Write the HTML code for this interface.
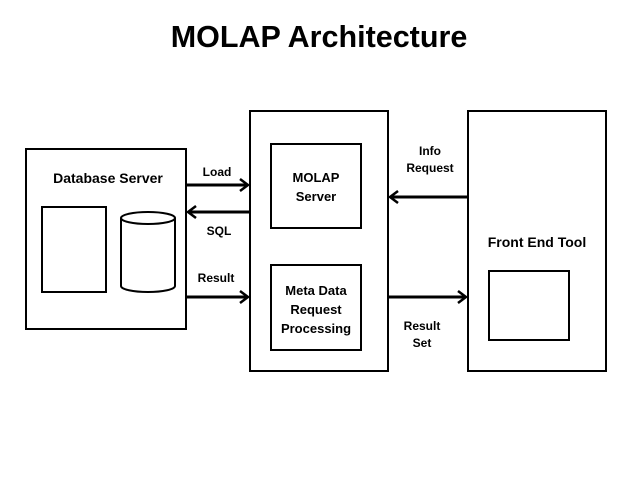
<!DOCTYPE html>
<html><head><meta charset="utf-8"><style>
html,body{margin:0;padding:0;background:#fff;}
</style></head><body>
<svg width="638" height="479" viewBox="0 0 638 479" xmlns="http://www.w3.org/2000/svg" font-family="'Liberation Sans',sans-serif">
<text x="319" y="47" text-anchor="middle" font-size="30.5" font-weight="bold" fill="#000">MOLAP Architecture</text>
<g fill="none" stroke="#000" stroke-width="2">
<rect x="26" y="149" width="160" height="180"/>
<rect x="42" y="207" width="64" height="85"/>
<path d="M121 218 V286 A27 6 0 0 0 175 286 V218"/>
<ellipse cx="148" cy="218" rx="27" ry="6"/>
<rect x="250" y="111" width="138" height="260"/>
<rect x="271" y="144" width="90" height="84"/>
<rect x="271" y="265" width="90" height="85"/>
<rect x="468" y="111" width="138" height="260"/>
<rect x="489" y="271" width="80" height="69"/>
</g>
<g fill="none" stroke="#000" stroke-width="3">
<line x1="186" y1="185" x2="248" y2="185"/><polyline points="240,179 248,185 240,191" stroke-width="2.5"/>
<line x1="250" y1="212" x2="188" y2="212"/><polyline points="196,206 188,212 196,218" stroke-width="2.5"/>
<line x1="186" y1="297" x2="248" y2="297"/><polyline points="240,291 248,297 240,303" stroke-width="2.5"/>
<line x1="468" y1="197" x2="390" y2="197"/><polyline points="398,191 390,197 398,203" stroke-width="2.5"/>
<line x1="388" y1="297" x2="466" y2="297"/><polyline points="458,291 466,297 458,303" stroke-width="2.5"/>
</g>
<g font-size="13" font-weight="bold" fill="#000" text-anchor="middle">
<text x="108" y="183" font-size="14">Database Server</text>
<text x="217" y="176" font-size="12">Load</text>
<text x="219" y="235" font-size="12">SQL</text>
<text x="216" y="282" font-size="12">Result</text>
<text x="316" y="182">MOLAP</text>
<text x="316" y="201">Server</text>
<text x="316" y="295">Meta Data</text>
<text x="316" y="314">Request</text>
<text x="316" y="333">Processing</text>
<text x="430" y="155" font-size="12">Info</text>
<text x="430" y="172" font-size="12">Request</text>
<text x="422" y="330" font-size="12">Result</text>
<text x="422" y="347" font-size="12">Set</text>
<text x="537" y="247" font-size="14">Front End Tool</text>
</g>
</svg>
</body></html>
